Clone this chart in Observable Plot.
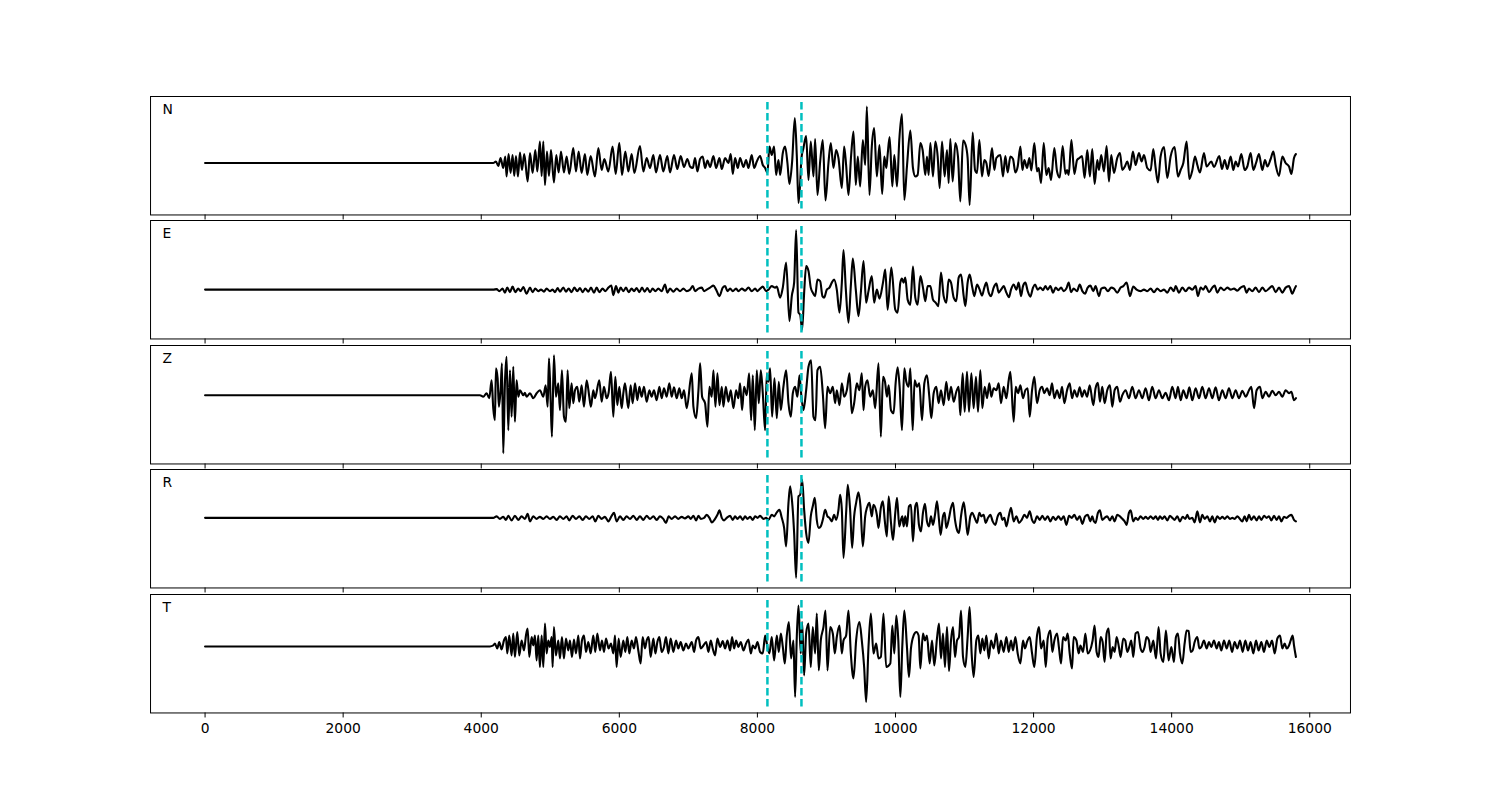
<!DOCTYPE html>
<html><head><meta charset="utf-8">
<script src="https://cdn.jsdelivr.net/npm/d3@7"></script>
<script src="https://cdn.jsdelivr.net/npm/@observablehq/plot@0.6"></script>
<style>
html,body{margin:0;padding:0;background:#fff;}
#fig{position:relative;width:1500px;height:800px;overflow:hidden;background:#fff;}
#fig > div{position:absolute;left:0;}
</style></head><body><div id="fig"></div>
<script>
const xTicks = [0, 2000, 4000, 6000, 8000, 10000, 12000, 14000, 16000];
const channels = ["N", "E", "Z", "R", "T"];
const pickTimes = [8145, 8638];

const traceN = [[0,0],[4174,0],[4213,1.5],[4247,-3],[4280,5],[4319,-5],[4348,6.5],[4367,-13.5],[4396,9],[4425,-10],[4454,8],[4478,-13],[4503,7],[4532,-13.5],[4561,10.5],[4590,-7],[4623,9],[4672,-18.5],[4706,10],[4744,-10],[4783,13],[4812,-8.5],[4850,21.5],[4875,-13],[4899,21.5],[4923,-22],[4952,11.5],[4981,-13],[5010,13],[5053,-19.5],[5087,8],[5121,-9.5],[5155,11.5],[5198,-9.5],[5237,6.5],[5275,-11],[5333,15],[5372,-8.5],[5411,11.5],[5454,-10],[5502,9],[5536,-12],[5585,7],[5647,-13.5],[5696,15],[5744,-7],[5783,4],[5841,-8.5],[5903,16.5],[5947,-11],[6000,20],[6039,-12],[6087,11.5],[6130,-8.5],[6179,9],[6217,-10],[6299,17],[6348,-8.5],[6396,5],[6444,-5],[6493,8],[6531,-9.5],[6589,8],[6637,-8.5],[6695,7],[6734,-9.5],[6792,8],[6840,-6],[6889,7],[6937,-4],[6985,4],[7024,-3.5],
[7064,-5],[7097,5],[7131,-8.5],[7170,4],[7208,6.5],[7242,-5],[7276,2.5],[7315,-4],[7363,7],[7402,-5],[7450,5],[7484,-6],[7532,5],[7580,0],[7614,9],[7643,-11],[7677,5],[7716,-5],[7749,5],[7798,-4],[7836,3],[7870,-5],[7918,8],[7952,-5],[7991,1.5],[8039,7],[8078,-2],[8112,-5],[8145,-10],[8174,16.5],[8208,8],[8242,16.5],[8271,-12],[8305,3],[8329,-12],[8368,10],[8401,16.5],[8435,0],[8464,-21],[8503,1.5],[8542,45],[8571,6.5],[8595,-40],[8619,-20],[8638,5],[8667,15],[8706,27],[8740,-17],[8773,21.5],[8812,-13.5],[8836,24],[8870,-32],[8909,1.5],[8947,23],[8986,-37.5],[9029,0],[9063,20],[9102,-5],[9140,13],[9174,5],[9223,-25],[9256,16.5],[9285,-2],[9319,-32],[9358,8],[9392,31.5],[9425,-22],[9454,6.5],[9488,-23.5],[9527,23],[9561,-2],[9585,56.5],[9623,-32],[9657,16.5],[9691,35],[9730,-13.5],[9768,18],[9807,-31],
[9838,6.5],[9867,-5],[9886,8],[9915,26],[9954,-23.5],[9983,8],[10022,-23.5],[10055,23],[10094,49],[10128,-37],[10166,-3.5],[10215,32.5],[10253,-5],[10287,-13.5],[10321,-12],[10360,20],[10393,13],[10432,-12],[10456,6.5],[10480,-12],[10505,20],[10543,-13.5],[10577,21.5],[10611,6.5],[10640,-25],[10674,21.5],[10712,-13.5],[10746,13],[10770,-20],[10794,24],[10828,-18.5],[10867,20],[10905,6.5],[10939,-38.5],[10978,22.5],[11016,18],[11045,5],[11074,-42],[11118,30.5],[11152,-7],[11181,-10],[11215,23],[11253,-13.5],[11287,3],[11316,0],[11350,-13],[11398,15],[11432,-7],[11461,5],[11519,8],[11557,-13.5],[11591,7],[11625,-9.5],[11664,6.5],[11702,4],[11736,-9.5],[11770,-3.5],[11809,16.5],[11838,-7],[11867,3],[11905,-5],[11939,5],[11968,-7.5],[12011,20],[12050,-8.5],[12074,-5],[12108,-20],[12147,20],[12185,-12],[12219,-5],[12253,-17],[12301,15],[12340,-8.5],[12379,-14.5],[12422,17],[12461,-11],[12485,-7],[12509,-12],[12548,23],[12591,-11],[12630,3],[12664,5],[12702,7],
[12739,-15],[12778,13],[12816,-13.5],[12850,14],[12884,-21],[12923,3],[12947,-7],[12980,8],[13019,-8.5],[13058,17],[13092,-18.5],[13125,8],[13164,-10],[13212,5],[13251,10],[13285,-7],[13323,-3.5],[13357,1.5],[13396,-7],[13439,11.5],[13478,-2],[13526,10],[13565,1.5],[13599,8],[13647,-5],[13695,-7.5],[13734,14],[13768,-5],[13802,-19.5],[13840,6.5],[13889,16],[13937,-15],[13985,6.5],[14043,16],[14091,-13.5],[14130,-7],[14169,0],[14217,21.5],[14256,-16],[14299,-7.5],[14338,6.5],[14372,-2],[14410,-9.5],[14468,10],[14507,-3.5],[14574,1.5],[14613,-4],[14690,7],[14729,-6],[14768,3],[14806,-6],[14855,6.5],[14893,-7],[14927,1.5],[14961,-3.5],[15009,9],[15057,-7],[15096,-3.5],[15144,10],[15183,-7],[15222,0],[15265,9],[15313,-7],[15352,3],[15386,-3.5],[15434,4],[15473,11.5],[15507,-2],[15555,-13],[15603,6.5],[15651,0],[15700,-3.5],[15734,-11],[15772,5],[15800,9]];

const traceE = [[0,0],[4174,0],[4223,0.5],[4261,-1.5],[4309,1],[4343,-3],[4377,2],[4416,-2.5],[4454,3],[4493,-2.5],[4536,1],[4570,-1.5],[4609,2.5],[4657,-4],[4706,2],[4744,-2.5],[4783,1],[4826,-1.5],[4865,0],[4908,-2],[4947,1],[4995,-1.5],[5034,0],[5068,-2.5],[5106,1.5],[5140,-2],[5189,2],[5227,-2],[5266,1],[5309,-2.5],[5348,2],[5391,-1.5],[5430,1.5],[5469,-2.5],[5507,1],[5551,-2],[5589,2],[5633,-3],[5672,2],[5710,-2.5],[5758,1],[5797,-1.5],[5841,2],[5884,4],[5913,-5.5],[5952,3.5],[5985,-3],[6019,2],[6058,-1.5],[6097,2],[6135,-2.5],[6179,1],[6213,-1.5],[6251,1.5],[6290,-2.5],[6329,2],[6367,-2],[6406,1.5],[6444,-2.5],[6483,1],[6522,-1.5],[6565,1],[6613,-1.5],[6662,5],[6696,-3],[6734,1],[6783,-2],[6831,1],[6879,-1.5],[6928,1],[6976,-1.5],[7024,0],
[7064,3.5],[7097,-1.5],[7146,1],[7194,2],[7228,-1.5],[7266,0],[7315,2],[7363,4],[7402,0],[7450,-6.5],[7498,2],[7532,3.5],[7566,-1.5],[7605,1],[7643,-1.5],[7691,1],[7725,-1.5],[7774,1],[7822,-1],[7870,2],[7918,-1.5],[7967,1],[8001,-1.5],[8039,1],[8078,3],[8126,-1.5],[8160,0],[8208,3.5],[8257,2],[8281,3],[8329,-8],[8368,2],[8416,27],[8464,-31.5],[8498,-6.5],[8532,7],[8561,59.5],[8595,-23],[8619,-25],[8648,-40],[8677,-3],[8706,23.5],[8740,18.5],[8773,2],[8802,-3],[8836,-6.5],[8870,10],[8909,8.5],[8942,-6.5],[8967,-8],[9005,0],[9044,2],[9078,7],[9111,10],[9150,0],[9189,-23],[9223,7],[9247,39.5],[9281,0],[9319,-33],[9353,3.5],[9382,31],[9425,0],[9464,-26.5],[9498,-3],[9537,28.5],[9575,-13],[9609,-1.5],[9657,13.5],[9691,-13],[9730,0],[9768,-9],[9819,7],[9852,20],[9886,-20],[9940,22],[9997,-20],[10031,-23],
[10070,7],[10094,11],[10118,7],[10142,12],[10176,-10],[10215,-15],[10253,23],[10287,-8],[10321,-15],[10360,13.5],[10398,2],[10432,-11.5],[10466,3.5],[10505,3.5],[10543,-10],[10582,-13],[10620,-16.5],[10659,17],[10698,-6.5],[10736,-13],[10770,10],[10804,7],[10843,-8],[10881,-11.5],[10915,12],[10949,15],[10988,-6.5],[11012,-16.5],[11045,7],[11074,15],[11113,2],[11142,-6.5],[11181,5],[11219,0],[11253,-6],[11287,2],[11316,7],[11350,-3],[11384,-6.5],[11422,2],[11461,6],[11495,-3],[11529,0],[11567,3.5],[11606,-3],[11644,-7.5],[11673,0],[11712,5],[11751,0],[11784,7],[11818,-6.5],[11847,3.5],[11881,7],[11915,-1.5],[11954,-7],[11992,2],[12021,5],[12060,0],[12098,2],[12137,-0.5],[12171,3.5],[12205,0],[12243,3.5],[12282,-3],[12321,2],[12359,-0.5],[12398,2],[12437,-1.5],[12475,1],[12509,7],[12543,-2.5],[12581,1],[12630,-1.5],[12668,5],[12707,-1.5],[12746,-4],[12784,2],[12823,4],
[12865,-1.5],[12898,3.5],[12947,-6.5],[12980,1],[13029,2],[13077,-1.5],[13125,2],[13164,1],[13212,-3],[13261,2],[13299,3.5],[13348,7],[13396,-6.5],[13444,3],[13492,0],[13550,-1.5],[13599,0],[13647,-1.5],[13695,1],[13744,-2.5],[13792,1],[13840,-1.5],[13889,0],[13937,-3],[13985,2],[14033,-1.5],[14058,3.5],[14106,-3],[14154,2],[14203,-1.5],[14251,2],[14299,0],[14347,3.5],[14381,-6.5],[14420,2],[14458,0],[14492,3.5],[14541,-2.5],[14589,2],[14623,4],[14661,-3],[14710,2],[14758,-0.5],[14806,2],[14855,0],[14903,1],[14951,-1],[14999,2],[15048,3.5],[15086,-3],[15120,1],[15168,-1.5],[15217,2],[15265,-2.5],[15313,2],[15362,-1.5],[15410,1],[15458,3.5],[15507,-2.5],[15555,2],[15603,-3],[15651,2],[15700,3.5],[15748,-4],[15782,1],[15800,3.5]];

const traceZ = [[0,0],[3981,0],[4029,-1.5],[4078,2],[4116,-3],[4150,15],[4174,-13],[4198,-25],[4213,27],[4237,17],[4256,-11.5],[4280,5],[4300,32],[4319,-58],[4343,12],[4367,38.5],[4392,-35],[4416,25],[4440,-21.5],[4464,28.5],[4488,-26.5],[4512,15],[4537,-1.5],[4561,5],[4609,0],[4633,2.5],[4657,-1.5],[4706,2],[4754,-3],[4802,2],[4850,5],[4899,-1.5],[4933,10],[4962,-11.5],[4981,37],[5005,-5],[5024,-41.5],[5053,40],[5082,-1.5],[5116,12],[5140,-15],[5169,25],[5198,-21.5],[5227,-26.5],[5251,25],[5275,-13],[5309,12],[5333,-8],[5358,5],[5391,8.5],[5420,-6.5],[5454,10],[5488,-11.5],[5527,15],[5565,-1.5],[5589,-11.5],[5623,5],[5647,-3],[5710,15],[5744,-6.5],[5778,8.5],[5816,-3],[5845,2.5],[5879,23.5],[5913,-21.5],[5942,18.5],[5971,-10],[6000,8.5],[6034,-13],[6058,2],[6082,12],[6130,-13],[6164,10],[6193,-8],[6227,12],[6261,-5],[6290,8.5],[6324,-1.5],[6357,8.5],[6396,-6.5],[6435,5],[6468,-1.5],[6502,5],[6541,-5],[6580,8.5],[6613,-3],[6647,7],[6686,-1.5],[6724,12],[6758,-1.5],[6792,8],[6831,-3],[6869,7],[6903,-3],[6937,5],[6976,-13],
[7049,22],[7073,-11.5],[7112,-23],[7146,5],[7170,32],[7199,-1.5],[7242,-8],[7276,-31.5],[7305,8.5],[7339,-1.5],[7363,25],[7392,-11.5],[7421,22],[7450,-10],[7484,8.5],[7508,-11.5],[7542,8.5],[7580,-6.5],[7614,5],[7653,-13],[7691,5],[7725,-3],[7749,12],[7778,-15],[7807,8.5],[7846,0],[7880,22],[7909,-25],[7933,20],[7962,-35],[7991,25],[8020,-8],[8049,25],[8078,2],[8112,-35],[8136,22],[8160,13.5],[8184,27],[8213,-21.5],[8247,17],[8281,-23],[8310,13.5],[8339,-15],[8377,8.5],[8416,25],[8450,-8],[8484,-21.5],[8513,2],[8546,8.5],[8580,-1.5],[8609,20],[8638,-1.5],[8667,-15],[8706,5],[8740,28.5],[8778,35],[8812,-21.5],[8841,-25],[8870,25],[8909,28.5],[8947,2],[8981,-33],[9015,8.5],[9054,2],[9092,8.5],[9126,-8],[9150,5],[9189,-10],[9223,12],[9256,-1.5],[9295,5],[9334,22],[9367,-18],[9401,-8],[9440,12],[9478,5],[9512,22],[9537,-15],[9561,8.5],[9594,15],[9633,-1.5],[9672,5],[9706,-13],[9754,32],[9788,-41.5],
[9819,18.5],[9848,13.5],[9877,-1.5],[9901,10],[9935,-15],[9973,-18],[10002,12],[10031,28],[10060,8.5],[10094,-35],[10128,27],[10157,13.5],[10191,8.5],[10215,27],[10249,-35],[10277,15],[10311,8.5],[10345,12],[10384,-25],[10418,12],[10456,20],[10490,-1.5],[10519,-23],[10553,2],[10591,8.5],[10625,-8],[10659,5],[10698,-10],[10736,13.5],[10770,-5],[10804,8.5],[10843,-6.5],[10881,3.5],[10915,8.5],[10939,-20],[10973,22],[11002,-16.5],[11036,23.5],[11065,-16.5],[11099,22],[11132,-13],[11166,18.5],[11195,-16.5],[11229,25],[11258,-13],[11292,8.5],[11326,-3],[11359,12],[11388,-1.5],[11422,7],[11461,5],[11495,12],[11528,-8],[11567,8.5],[11606,-3],[11640,15],[11664,23.5],[11712,-26.5],[11741,8.5],[11775,2],[11809,10],[11847,-3],[11881,5],[11915,7],[11944,-21.5],[11978,5],[12011,18.5],[12050,-8],[12089,5],[12123,8.5],[12156,2],[12195,7],[12234,0],[12267,12],[12301,-3],[12340,5],[12379,-3],[12412,8.5],[12446,-8],[12485,5],[12523,12],[12557,-3],[12591,5],[12630,-1.5],[12668,8],[12702,-1.5],[12736,5],[12775,-1.5],[12813,10],
[12865,-10],[12898,7],[12932,12.5],[12961,-6.5],[12995,8.5],[13029,-8],[13067,5],[13106,10],[13140,-11.5],[13174,5],[13212,8.5],[13251,-6.5],[13285,0],[13333,5],[13381,-3],[13430,8.5],[13478,-3],[13526,5],[13575,-3],[13623,7],[13671,-5],[13719,8.5],[13768,-3],[13816,5],[13864,-3],[13913,2.5],[13961,-5],[14009,8.5],[14058,-3],[14091,8.5],[14130,-5],[14169,5],[14217,-3],[14256,8],[14299,-5],[14347,7],[14396,-3],[14444,8.5],[14492,-3],[14541,7],[14589,-3],[14637,8],[14685,-5],[14734,5],[14782,-3],[14830,7],[14879,-3],[14927,5],[14975,-3],[15024,4.5],[15072,-1.5],[15120,5],[15154,8.5],[15193,-13],[15231,5],[15280,8.5],[15313,-3],[15362,3.5],[15410,-1.5],[15458,4.5],[15507,0],[15555,3.5],[15603,-1.5],[15651,5],[15700,2],[15734,3.5],[15772,-5],[15800,-3]];

const traceR = [[0,0],[4174,0],[4223,1.5],[4271,-1],[4319,1],[4358,-2],[4392,2],[4440,-2.5],[4488,2],[4536,-2],[4585,1.5],[4633,-1],[4672,4],[4706,-3.5],[4754,1.5],[4802,-1],[4850,1],[4899,-1],[4947,1.5],[4995,-1],[5044,1],[5092,-2],[5140,1.5],[5189,-1],[5237,1.5],[5275,-2.5],[5324,2],[5372,-1],[5420,1.5],[5469,-2],[5517,1.5],[5565,-1],[5614,1.5],[5652,-3.5],[5696,2],[5744,-1],[5792,1],[5841,-3.5],[5889,2],[5923,5],[5961,-3.5],[6010,1.5],[6058,-2],[6106,1.5],[6155,-1],[6203,2],[6251,-2],[6299,1.5],[6348,-2],[6396,2],[6444,-1],[6493,1.5],[6541,-2],[6589,1.5],[6637,-1],[6676,-5],[6715,1.5],[6758,-1],[6807,1.5],[6855,-1],[6903,1],[6951,-0.5],[7000,1.5],
[7035,-1],[7073,2],[7112,-2.5],[7146,2],[7179,-1],[7228,0],[7266,3],[7305,0],[7339,-4.5],[7387,-1],[7421,3],[7450,7.5],[7484,0],[7518,-2.5],[7556,0],[7605,2],[7643,-2],[7677,1.5],[7711,-1],[7749,1.5],[7788,-2],[7822,1.5],[7856,-1],[7894,1],[7933,-2],[7967,1.5],[8001,0],[8039,2],[8088,-1],[8126,0],[8160,-2],[8208,3],[8242,1.5],[8281,5.5],[8319,8],[8353,0],[8387,-10],[8416,-28.5],[8450,15],[8474,31.5],[8508,11.5],[8532,-15],[8561,-60],[8595,21.5],[8619,23],[8648,38],[8677,8],[8706,-15],[8740,-25],[8773,1.5],[8802,11.5],[8831,20],[8860,-2],[8889,-10],[8918,-8.5],[8947,-2],[8981,8],[9015,1.5],[9044,0],[9078,-3.5],[9111,3],[9140,-2],[9174,8],[9198,23],[9223,8],[9247,-40],[9285,5],[9309,33],[9343,8],[9372,-30],[9401,1.5],[9430,15],[9464,25.5],[9493,11.5],[9527,-28.5],[9561,1.5],[9594,11.5],[9623,15],[9657,1.5],[9681,13],[9730,3],[9754,-10],[9788,10],[9817,16.5],[9846,-3.5],[9875,-18.5],
[9901,21.5],[9935,-5],[9964,-22],[9997,5],[10022,20],[10055,-8.5],[10079,-2],[10099,1.5],[10118,-8.5],[10142,1.5],[10166,-8.5],[10195,11.5],[10224,13],[10253,-23.5],[10287,11.5],[10311,15],[10340,-7],[10369,-13.5],[10398,5],[10427,14],[10456,-3.5],[10485,-8.5],[10514,1.5],[10543,-7],[10572,3],[10601,16.5],[10630,-2],[10654,-17],[10688,1.5],[10712,5],[10736,-10],[10770,-2],[10804,10],[10833,15],[10862,-2],[10891,-12],[10920,-15],[10949,1.5],[10988,15.5],[11016,1.5],[11045,-17],[11084,1.5],[11113,5],[11147,0],[11181,-5],[11215,5],[11243,1.5],[11277,3],[11306,-5],[11340,0],[11374,3],[11408,-3.5],[11446,-7],[11480,1.5],[11519,5],[11548,-2],[11577,0],[11606,-8.5],[11640,1.5],[11673,10],[11712,-3.5],[11751,1.5],[11789,-5],[11828,-2],[11867,3],[11905,0],[11944,6.5],[11978,-2],[12011,-5],[12050,1.5],[12089,-2],[12127,2],[12166,-2],[12205,1.5],[12243,-3.5],[12282,1],[12321,-2],[12360,1.5],[12398,-2],[12437,1.5],[12475,-7],[12514,2],[12552,0],[12591,3],[12630,-2],[12668,1.5],[12707,-6],[12746,1.5],[12784,3],[12823,-3.5],
[12850,1.5],[12874,-3.5],[12898,-5],[12932,5],[12961,7.5],[12995,-2],[13029,0],[13067,1.5],[13106,-2.5],[13140,1.5],[13174,-3.5],[13212,3],[13251,1.5],[13285,-1],[13319,-3.5],[13348,-7],[13381,5],[13406,7.5],[13444,-3.5],[13478,0],[13512,-2],[13550,1.5],[13589,-1],[13623,1],[13657,-1],[13695,1.5],[13734,-1],[13768,1.5],[13802,-2],[13831,1.5],[13864,-1],[13898,1.5],[13937,-2.5],[13975,2],[14009,0],[14043,-2],[14082,1.5],[14120,-3.5],[14159,1],[14198,-1],[14227,3],[14256,-1],[14299,0],[14333,-4.5],[14372,6.5],[14410,-4.5],[14444,3],[14478,-1],[14516,1.5],[14555,-3.5],[14589,1.5],[14623,-4.5],[14661,1.5],[14700,-1],[14734,1],[14768,-1],[14806,1.5],[14845,-1],[14879,0],[14912,-1],[14951,1.5],[15024,-3.5],[15057,1.5],[15086,-3.5],[15120,3],[15154,-2],[15193,1.5],[15231,-2.5],[15265,1.5],[15299,-2],[15338,2],[15376,0],[15410,1.5],[15444,-2.5],[15483,2],[15521,-2],[15555,1.5],[15589,-3.5],[15627,1],[15666,0],[15700,2],[15734,3],[15772,-2],[15800,-3.5]];

const traceT = [[0,0],[4126,0],[4174,1],[4198,3],[4232,-2],[4261,4.5],[4295,-3],[4329,6],[4358,9.5],[4377,-7],[4406,11],[4440,-9],[4464,13],[4488,-10.5],[4522,14.5],[4551,-9],[4585,6],[4619,-4],[4648,11],[4672,18],[4696,-10.5],[4730,9.5],[4754,1],[4778,11],[4802,-14],[4826,11],[4850,-20.5],[4875,11],[4899,-20.5],[4923,23],[4947,-7],[4971,6],[4995,-0.5],[5020,9.5],[5034,-20.5],[5053,19.5],[5082,-9],[5116,6],[5140,-12],[5169,9.5],[5198,-12],[5227,8],[5261,-4],[5285,6],[5314,-10.5],[5343,7],[5372,-7],[5406,11],[5430,-12],[5459,6],[5488,11],[5517,-5.5],[5551,4.5],[5585,-7],[5623,11],[5652,-5.5],[5681,13],[5720,-4],[5749,6],[5778,-5.5],[5807,8],[5845,-2],[5879,3],[5913,-7],[5937,11],[5961,-20.5],[5990,8],[6019,-10.5],[6058,6],[6087,-5.5],[6116,9.5],[6145,-7],[6179,6],[6213,-2],[6241,9.5],[6275,-4],[6309,-17],[6338,9.5],[6372,-2],[6396,6],[6425,9.5],[6454,-10.5],[6493,8],[6522,-7],[6551,4.5],[6580,9.5],[6613,-5.5],[6647,-0.5],[6676,9.5],[6710,-7],[6744,8],[6783,-5.5],[6821,6],[6855,-2],[6889,4.5],[6927,-4],[6966,3],[7000,-2],
[7049,4.5],[7083,-5.5],[7112,6],[7146,9.5],[7179,-2],[7218,1],[7257,4.5],[7291,-5.5],[7324,6],[7353,-2],[7387,-9],[7421,8],[7460,-0.5],[7498,5.5],[7532,-2],[7566,6],[7605,-4],[7633,9.5],[7662,-2],[7691,6],[7725,-0.5],[7759,4.5],[7798,-4],[7836,3],[7870,7],[7904,-7],[7933,1],[7967,-2],[8001,4.5],[8039,-5.5],[8078,-7],[8112,11],[8145,-0.5],[8174,-7],[8208,9.5],[8242,-14],[8281,11],[8310,-5.5],[8339,13],[8368,-0.5],[8397,-17],[8426,11],[8455,24.5],[8488,-12],[8522,6],[8546,-50.5],[8571,11],[8595,41],[8628,-7],[8648,24.5],[8677,-29],[8706,13],[8740,23],[8773,-20.5],[8802,19.5],[8836,-7],[8860,33],[8889,-24],[8918,6],[8957,19.5],[8986,36],[9015,-24],[9054,19.5],[9092,13],[9121,-7],[9150,9.5],[9189,21],[9223,-7],[9247,6],[9285,11],[9319,36],[9353,-7],[9392,-32],[9430,6],[9478,24.5],[9512,6],[9546,-20.5],[9575,-55.5],[9609,-0.5],[9643,33],[9681,-7],[9720,3],[9754,-12],[9788,-10.5],[9826,33],[9865,-20.5],
[9925,-17],[9954,21],[9983,-7],[10012,31],[10041,6],[10070,-50.5],[10099,1],[10128,36],[10166,-0.5],[10195,-30.5],[10224,-2],[10263,11],[10302,14.5],[10335,11],[10360,-22],[10398,13],[10427,6],[10456,11],[10495,-17],[10529,6],[10562,-19],[10601,8],[10630,23],[10659,-12],[10688,13],[10717,-20.5],[10746,19.5],[10775,-24.5],[10804,6],[10833,19.5],[10862,-10.5],[10891,6],[10920,9.5],[10949,36],[10978,-10.5],[11012,-20.5],[11045,9.5],[11074,39.5],[11103,-7],[11132,-30.5],[11171,6],[11200,11],[11229,-7],[11258,8],[11287,-4],[11316,11],[11350,-12],[11384,6],[11422,-2],[11461,13],[11495,-7],[11528,6],[11567,-5.5],[11606,9.5],[11640,-5.5],[11673,6],[11702,-4],[11736,9.5],[11770,-7],[11809,-17],[11847,6],[11876,-2],[11905,4.5],[11944,9.5],[11978,-7],[12011,-20.5],[12050,11],[12079,19.5],[12108,-2],[12147,6],[12176,-20.5],[12205,8],[12243,16],[12272,-5.5],[12301,6],[12340,13],[12369,-2],[12398,-17],[12427,9.5],[12465,6],[12494,13],[12523,-7],[12557,-22],[12581,9.5],[12620,6],[12654,-7],[12678,1],[12717,-5.5],[12750,13],[12784,-7],
[12855,6],[12884,21],[12913,-5.5],[12942,-10.5],[12971,9.5],[13000,4.5],[13029,-15.5],[13058,13],[13087,18],[13116,-12],[13145,-0.5],[13174,-5.5],[13203,9.5],[13236,-0.5],[13261,-10.5],[13299,8],[13328,6],[13357,-5.5],[13386,-0.5],[13415,6],[13444,-10.5],[13478,13],[13512,14.5],[13550,-2],[13579,-5.5],[13608,-0.5],[13637,9.5],[13671,6],[13695,-5.5],[13734,6],[13773,-12],[13811,19.5],[13840,-7],[13879,-15.5],[13917,16],[13956,-14],[13995,-0.5],[14033,-15.5],[14062,9.5],[14091,13],[14120,-7],[14154,-17],[14188,3],[14217,16],[14246,15.5],[14275,-5.5],[14304,-4],[14333,4.5],[14372,9.5],[14401,-2],[14430,-0.5],[14468,6],[14507,-2],[14541,4.5],[14574,-0.5],[14613,6],[14652,-2],[14685,4.5],[14719,-4],[14758,6],[14797,-2],[14835,6],[14874,-5.5],[14912,4.5],[14951,-2],[14990,6],[15028,-5.5],[15067,6],[15106,-4],[15144,4.5],[15183,-7],[15222,6],[15260,-4],[15299,4.5],[15338,-5.5],[15376,6],[15415,-0.5],[15454,6],[15492,-7],[15531,8],[15569,11],[15603,-2],[15637,3],[15666,-2],[15700,1],[15724,6],[15753,11],[15772,1],[15800,-10.5]];

const traces = [traceN, traceE, traceZ, traceR, traceT];

// layout (matplotlib-like stacked axes)
const panelTop = [96, 220.38, 344.77, 469.15, 593.54];
const panelH = 118.46;
const yDomains = [[-51.96, 66.5], [-49.35, 69.12], [-68.73, 49.73], [-70.12, 48.35], [-66.5, 51.96]];
const xDomain = [-790, 16590];

const fig = document.getElementById("fig");
traces.forEach((tr, i) => {
  const last = i === traces.length - 1;
  const mb = last ? 45 : 6;
  const chart = Plot.plot({
    width: 1500,
    height: panelH + mb,
    marginLeft: 150, marginRight: 150, marginTop: 0, marginBottom: mb,
    style: {fontFamily: "'DejaVu Sans', sans-serif", fontSize: "13.9px", color: "black", background: "transparent", overflow: "visible"},
    x: {domain: xDomain, ticks: xTicks, tickSize: 5, tickPadding: 5.5, label: null,
        tickFormat: last ? (d => String(d)) : (() => "")},
    y: {domain: yDomains[i], axis: null},
    marks: [
      Plot.line(tr, {x: d => d[0], y: d => d[1], stroke: "black", strokeWidth: 2.1, curve: "monotone-x"}),
      Plot.ruleX(pickTimes, {stroke: "#00bfbf", strokeWidth: 2.5, strokeDasharray: "7.7,3.3", insetTop: 5.9, insetBottom: 5.9}),
      Plot.text([channels[i]], {text: d => d, frameAnchor: "top-left", dx: 12, dy: 7.2, lineAnchor: "top", textAnchor: "start", fontSize: 13.9, fill: "black"}),
      Plot.frame({stroke: "black", strokeWidth: 1})
    ]
  });
  const wrap = document.createElement("div");
  wrap.style.top = panelTop[i] + "px";
  wrap.appendChild(chart);
  fig.appendChild(wrap);
});
</script>
</body></html>
